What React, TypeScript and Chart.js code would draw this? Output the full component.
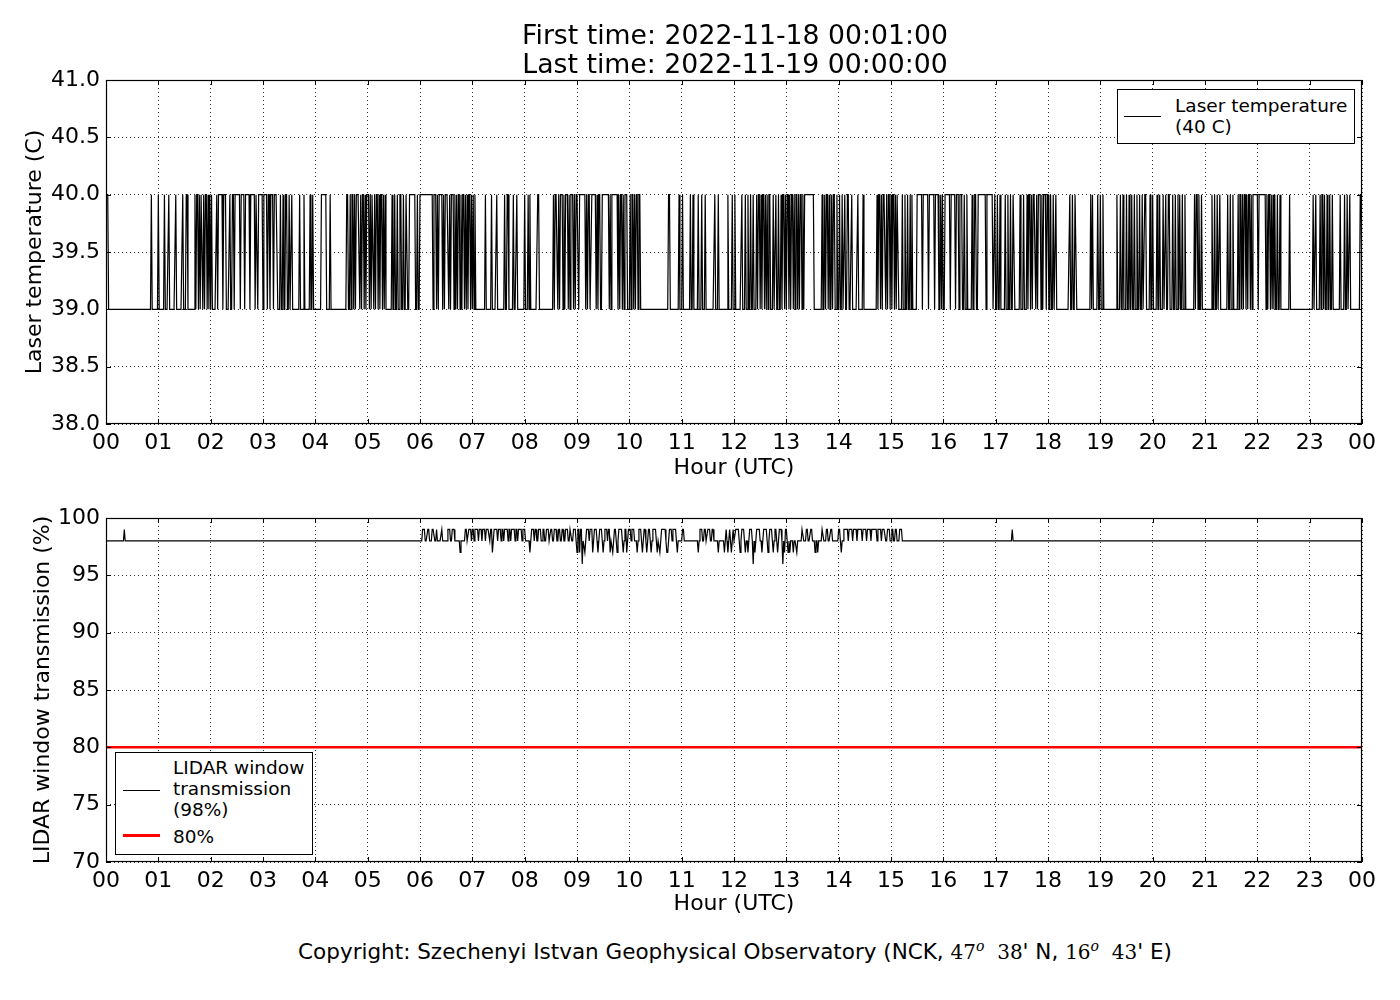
import { useEffect, useRef } from "react"
import { Chart, registerables, type ChartConfiguration, type Plugin } from "chart.js"

Chart.register(...registerables)

const FONT = "'DejaVu Sans', sans-serif"

// time axis in minutes after 2022-11-18 00:00 UTC (00:01 ... 24:00)
const firstMinute = 1
const lastMinute = 1440
const hourLabels = [
  "00", "01", "02", "03", "04", "05", "06", "07", "08", "09", "10", "11", "12",
  "13", "14", "15", "16", "17", "18", "19", "20", "21", "22", "23", "00",
]

// laser temperature: 39 C baseline, minute spans where it reads 40 C
const laserBase = 39
const laserHigh = 40
const laserTicks = [38, 38.5, 39, 39.5, 40, 40.5, 41]
const laserHighSpans: [number, number][] = [
  [1, 2], [52, 52], [60, 60], [67, 67], [72, 72], [80, 80], [88, 88], [92, 93],
  [102, 102], [104, 105], [107, 107], [109, 110], [112, 112], [114, 115], [117, 117], [119, 119], [121, 121],
  [127, 127], [129, 133], [135, 137], [142, 142], [145, 146],
  [148, 153], [155, 158], [160, 164], [166, 170], [172, 173], [175, 179], [181, 184], [186, 187], [189, 191], [193, 196],
  [200, 200], [203, 203], [206, 207], [210, 210], [213, 213], [222, 222], [227, 227], [234, 234], [237, 237],
  [247, 252], [257, 257], [276, 277],
  [280, 280], [282, 283], [285, 285], [287, 290], [292, 292], [294, 295], [297, 297], [299, 301], [303, 303],
  [305, 306], [308, 308], [310, 311], [313, 313], [315, 316], [318, 318], [320, 320],
  [328, 328], [331, 331], [334, 334], [337, 338], [341, 341], [344, 345], [348, 354], [357, 357],
  [360, 374],
  [376, 378], [380, 380], [382, 385], [387, 387], [389, 392], [394, 394], [396, 398], [400, 400],
  [402, 402], [404, 405], [407, 407], [409, 410], [412, 412], [414, 414], [416, 417], [419, 419], [421, 421], [423, 423],
  [435, 435], [442, 442], [448, 448], [457, 457], [460, 461], [467, 467], [471, 471], [480, 480], [484, 484], [486, 486], [495, 496],
  [513, 513], [515, 517], [519, 519], [521, 523], [525, 525], [527, 529], [531, 531], [533, 535], [537, 537], [539, 541],
  [543, 549], [551, 551], [553, 554], [557, 561], [563, 563], [565, 566], [569, 576], [578, 578], [580, 586],
  [588, 588], [590, 591], [593, 593], [595, 597],
  [601, 601], [603, 604], [606, 606], [608, 609], [611, 612],
  [645, 646], [657, 657], [661, 661], [670, 670], [673, 673], [679, 679], [683, 683], [687, 687], [698, 698], [702, 702],
  [713, 713], [718, 718], [721, 721], [729, 729], [733, 733],
  [736, 736], [739, 739], [742, 742], [746, 746], [748, 749], [751, 751], [753, 754], [756, 756], [758, 758], [760, 761],
  [765, 765], [768, 768], [771, 771], [774, 774],
  [776, 777], [779, 779], [781, 782], [784, 784], [786, 787], [789, 789], [791, 792], [794, 794], [796, 797], [799, 799],
  [801, 811],
  [821, 821], [824, 824], [826, 827], [829, 829], [832, 832], [834, 835], [838, 838], [841, 841], [844, 844], [847, 847],
  [850, 851], [855, 855], [862, 862], [868, 868],
  [884, 884], [886, 887], [889, 889], [891, 893], [895, 895], [897, 898], [900, 900], [902, 903], [905, 905], [907, 908],
  [913, 913], [916, 916], [919, 919], [922, 922], [924, 924],
  [930, 935], [937, 942], [944, 949], [951, 954], [957, 957], [959, 959], [962, 967], [969, 973], [975, 977],
  [979, 981], [984, 984], [987, 987], [993, 993], [996, 997],
  [1000, 1008], [1010, 1016], [1019, 1019], [1022, 1022], [1025, 1025],
  [1031, 1031], [1034, 1034], [1037, 1037], [1040, 1041], [1048, 1048], [1052, 1052],
  [1056, 1056], [1058, 1059], [1061, 1061], [1063, 1065], [1067, 1067], [1069, 1071], [1073, 1073], [1075, 1077], [1079, 1080],
  [1083, 1083], [1086, 1086], [1089, 1089], [1105, 1105], [1108, 1108], [1111, 1112],
  [1129, 1129], [1131, 1131], [1137, 1137], [1140, 1140], [1143, 1143],
  [1159, 1159], [1163, 1163], [1166, 1166], [1170, 1170], [1173, 1173], [1176, 1176], [1179, 1179], [1182, 1182],
  [1185, 1185], [1188, 1188], [1191, 1192], [1197, 1197], [1200, 1200], [1205, 1205], [1208, 1208],
  [1212, 1212], [1215, 1215], [1218, 1219], [1223, 1223], [1226, 1226], [1229, 1229], [1231, 1231], [1234, 1234], [1237, 1237],
  [1248, 1248], [1250, 1251], [1253, 1253], [1256, 1256], [1268, 1268], [1271, 1271], [1274, 1274], [1277, 1277],
  [1286, 1286], [1289, 1289], [1292, 1292],
  [1298, 1298], [1300, 1301], [1303, 1303], [1305, 1306], [1308, 1308], [1310, 1311], [1313, 1313], [1315, 1320], [1322, 1329],
  [1331, 1331], [1333, 1334], [1336, 1336], [1338, 1338], [1340, 1340], [1343, 1343], [1346, 1346], [1357, 1357],
  [1384, 1384], [1387, 1387], [1392, 1392], [1394, 1395], [1397, 1397], [1400, 1400], [1403, 1403], [1406, 1406],
  [1415, 1415], [1420, 1420], [1423, 1423], [1426, 1426], [1438, 1439],
]

// LIDAR window transmission: 98 % baseline, spans at 99 %, single-minute dips
const lidarBase = 98
const lidarHigh = 99
const lidarTicks = [70, 75, 80, 85, 90, 95, 100]
const lidarHighSpans: [number, number][] = [
  [21, 21],
  [363, 365], [369, 370], [374, 376], [379, 379], [385, 385], [392, 394], [397, 399],
  [412, 413], [416, 418], [420, 421],
  [423, 426], [428, 430], [432, 434], [436, 439], [441, 442], [445, 448], [450, 452], [454, 455], [457, 460],
  [462, 463], [465, 468], [470, 471], [473, 476], [478, 480],
  [488, 490], [492, 493], [496, 498], [501, 502], [505, 507], [510, 511], [514, 516], [519, 520], [523, 524], [527, 529], [532, 533],
  [536, 538], [541, 542], [544, 545], [551, 553], [555, 557], [560, 562], [566, 568], [572, 574], [576, 577],
  [583, 584], [588, 591], [595, 596], [599, 601],
  [603, 605], [611, 613], [617, 618], [622, 623], [627, 630], [637, 641], [646, 648], [650, 653],
  [661, 662], [681, 683], [686, 687], [690, 692], [695, 696], [711, 711], [715, 715], [719, 719],
  [722, 725], [729, 731], [738, 740], [746, 749], [754, 757], [761, 763], [767, 768], [772, 774], [779, 780],
  [798, 799], [803, 804], [808, 809], [821, 822], [826, 827], [831, 832], [840, 841],
  [846, 850], [852, 855], [857, 860], [862, 866], [868, 871], [873, 876], [878, 883], [885, 888], [890, 893],
  [896, 898], [901, 902], [905, 906], [910, 912],
  [1039, 1039],
]
const lidarDips97 = [
  406, 443, 486, 540, 543, 549, 558, 564, 570, 578, 581, 586, 593, 597, 609, 615, 620, 625, 632, 635, 643, 644,
  655, 679, 702, 709, 713, 717, 727, 733, 736, 744, 752, 759, 765, 770, 778, 782, 784, 788, 792, 813, 816, 843,
]
const lidarDips96 = [546, 742, 776]
const thresholdValue = 80

type Pt = { x: number; y: number }

function buildSeries(base: number, high: number, spans: [number, number][], dips: [number, number[]][]): Pt[] {
  const pts: Pt[] = []
  for (let m = firstMinute; m <= lastMinute; m++) pts.push({ x: m, y: base })
  for (const [a, b] of spans) {
    for (let m = a; m <= b; m++) pts[m - firstMinute].y = high
  }
  for (const [value, minutes] of dips) {
    for (const m of minutes) pts[m - firstMinute].y = value
  }
  return pts
}

// black frame + inward tick marks on all four sides (classic matplotlib look)
const framePlugin: Plugin = {
  id: "frame",
  afterDatasetsDraw(chart) {
    const { ctx, chartArea } = chart
    const { left, right, top, bottom } = chartArea
    const xs = chart.scales.x
    const ys = chart.scales.y
    const len = 5
    ctx.save()
    ctx.strokeStyle = "#000"
    ctx.lineWidth = 1
    ctx.beginPath()
    for (const t of xs.ticks) {
      const px = Math.round(xs.getPixelForValue(t.value)) + 0.5
      ctx.moveTo(px, bottom)
      ctx.lineTo(px, bottom - len)
      ctx.moveTo(px, top)
      ctx.lineTo(px, top + len)
    }
    for (const t of ys.ticks) {
      const py = Math.round(ys.getPixelForValue(t.value)) + 0.5
      ctx.moveTo(left, py)
      ctx.lineTo(left + len, py)
      ctx.moveTo(right, py)
      ctx.lineTo(right - len, py)
    }
    ctx.stroke()
    ctx.lineWidth = 1.2
    ctx.strokeRect(left + 0.5, top + 0.5, right - left - 1, bottom - top - 1)
    ctx.restore()
  },
}

function xScale(titlePadBottom: number, height: number) {
  return {
    type: "linear" as const,
    min: 0,
    max: 1440,
    afterFit: (s: any) => {
      s.height = height
    },
    ticks: {
      stepSize: 60,
      autoSkip: false,
      maxRotation: 0,
      padding: 6,
      color: "#000",
      font: { family: FONT, size: 22 },
      callback: (v: any) => hourLabels[Math.round(Number(v) / 60)] ?? "",
    },
    grid: { color: "rgba(0,0,0,0.8)", lineWidth: 1, drawTicks: false },
    border: { display: false, dash: [1, 3] },
    title: {
      display: true,
      text: "Hour (UTC)",
      color: "#000",
      font: { family: FONT, size: 22, lineHeight: 1.2 },
      padding: { top: 0, bottom: titlePadBottom },
    },
  }
}

function yScale(min: number, max: number, ticks: number[], title: string, titlePadTop: number, decimals: number) {
  return {
    type: "linear" as const,
    min,
    max,
    afterFit: (s: any) => {
      s.width = 106
    },
    afterBuildTicks: (s: any) => {
      s.ticks = ticks.map((value) => ({ value }))
    },
    ticks: {
      padding: 6,
      color: "#000",
      font: { family: FONT, size: 22 },
      callback: (v: any) => Number(v).toFixed(decimals),
    },
    grid: { color: "rgba(0,0,0,0.8)", lineWidth: 1, drawTicks: false },
    border: { display: false, dash: [1, 3] },
    title: {
      display: true,
      text: title,
      color: "#000",
      font: { family: FONT, size: 22, lineHeight: 1.2 },
      padding: { top: titlePadTop, bottom: 0 },
    },
  }
}

function LaserChart() {
  const chartRef = useRef<HTMLCanvasElement>(null)
  const chartInstance = useRef<Chart | null>(null)

  useEffect(() => {
    if (!chartRef.current) return
    if (chartInstance.current) chartInstance.current.destroy()
    const ctx = chartRef.current.getContext("2d")
    if (!ctx) return

    const config: ChartConfiguration = {
      type: "line",
      data: {
        datasets: [
          {
            label: "Laser temperature (40 C)",
            data: buildSeries(laserBase, laserHigh, laserHighSpans, []),
            borderColor: "#000",
            borderWidth: 1.2,
            pointRadius: 0,
            tension: 0,
            fill: false,
          },
        ],
      },
      options: {
        responsive: false,
        animation: false,
        parsing: false,
        normalized: true,
        layout: { padding: { top: 80, right: 38, left: 0, bottom: 0 } },
        plugins: { legend: { display: false }, tooltip: { enabled: false } },
        scales: {
          x: xScale(9, 66) as any,
          y: yScale(38, 41, laserTicks, "Laser temperature (C)", 22, 1) as any,
        },
      },
      plugins: [framePlugin],
    }

    chartInstance.current = new Chart(ctx, config)
    return () => {
      if (chartInstance.current) {
        chartInstance.current.destroy()
        chartInstance.current = null
      }
    }
  }, [])

  return <canvas ref={chartRef} width={1400} height={490} style={{ position: "absolute", left: 0, top: 0 }} />
}

function LidarChart() {
  const chartRef = useRef<HTMLCanvasElement>(null)
  const chartInstance = useRef<Chart | null>(null)

  useEffect(() => {
    if (!chartRef.current) return
    if (chartInstance.current) chartInstance.current.destroy()
    const ctx = chartRef.current.getContext("2d")
    if (!ctx) return

    const config: ChartConfiguration = {
      type: "line",
      data: {
        datasets: [
          {
            label: "80%",
            data: [
              { x: 0, y: thresholdValue },
              { x: 1440, y: thresholdValue },
            ],
            borderColor: "#ff0000",
            borderWidth: 2.5,
            pointRadius: 0,
            fill: false,
          },
          {
            label: "LIDAR window transmission (98%)",
            data: buildSeries(lidarBase, lidarHigh, lidarHighSpans, [
              [97, lidarDips97],
              [96, lidarDips96],
            ]),
            borderColor: "#000",
            borderWidth: 1.2,
            pointRadius: 0,
            tension: 0,
            fill: false,
          },
        ],
      },
      options: {
        responsive: false,
        animation: false,
        parsing: false,
        normalized: true,
        layout: { padding: { top: 28, right: 38, left: 0, bottom: 0 } },
        plugins: { legend: { display: false }, tooltip: { enabled: false } },
        scales: {
          x: xScale(3, 58) as any,
          y: yScale(70, 100, lidarTicks, "LIDAR window transmission (%)", 30, 0) as any,
        },
      },
      plugins: [framePlugin],
    }

    chartInstance.current = new Chart(ctx, config)
    return () => {
      if (chartInstance.current) {
        chartInstance.current.destroy()
        chartInstance.current = null
      }
    }
  }, [])

  return <canvas ref={chartRef} width={1400} height={430} style={{ position: "absolute", left: 0, top: 490 }} />
}

const legendText: React.CSSProperties = {
  position: "absolute",
  fontFamily: FONT,
  fontSize: 18.5,
  lineHeight: "21px",
  color: "#000",
  whiteSpace: "nowrap",
}

export default function App() {
  return (
    <div style={{ position: "absolute", left: 0, top: 0, width: 1400, height: 1000, background: "#fff", overflow: "hidden" }}>
      <LaserChart />
      <LidarChart />

      <div
        style={{
          position: "absolute",
          left: 335,
          width: 800,
          top: 20,
          textAlign: "center",
          fontFamily: FONT,
          fontSize: 26.7,
          lineHeight: "29px",
          color: "#000",
        }}
      >
        <div>First time: 2022-11-18 00:01:00</div>
        <div>Last time: 2022-11-19 00:00:00</div>
      </div>

      {/* upper legend */}
      <div style={{ position: "absolute", left: 1117, top: 89, width: 236, height: 53, border: "1px solid #000", background: "#fff" }}>
        <div style={{ position: "absolute", left: 6, top: 26, width: 37, height: 0, borderTop: "1.2px solid #000" }} />
        <div style={{ ...legendText, left: 57, top: 5 }}>
          Laser temperature
          <br />
          (40 C)
        </div>
      </div>

      {/* lower legend */}
      <div style={{ position: "absolute", left: 115, top: 752, width: 196, height: 101, border: "1px solid #000", background: "#fff" }}>
        <div style={{ position: "absolute", left: 7, top: 37, width: 37, height: 0, borderTop: "1.2px solid #000" }} />
        <div style={{ ...legendText, left: 57, top: 4 }}>
          LIDAR window
          <br />
          transmission
          <br />
          (98%)
        </div>
        <div style={{ position: "absolute", left: 7, top: 81, width: 37, height: 3, background: "#ff0000" }} />
        <div style={{ ...legendText, left: 57, top: 73 }}>80%</div>
      </div>

      <div
        style={{
          position: "absolute",
          left: 0,
          width: 1470,
          top: 933,
          textAlign: "center",
          fontFamily: FONT,
          fontSize: 21.5,
          lineHeight: "26px",
          color: "#000",
          whiteSpace: "nowrap",
        }}
      >
        Copyright: Szechenyi Istvan Geophysical Observatory (NCK,{" "}
        <span style={{ fontFamily: "'DejaVu Serif', serif", fontSize: 20 }}>
          47<sup style={{ fontSize: 14, fontStyle: "italic" }}>o</sup>&nbsp;&nbsp;38
        </span>
        ' N,{" "}
        <span style={{ fontFamily: "'DejaVu Serif', serif", fontSize: 20 }}>
          16<sup style={{ fontSize: 14, fontStyle: "italic" }}>o</sup>&nbsp;&nbsp;43
        </span>
        ' E)
      </div>
    </div>
  )
}
